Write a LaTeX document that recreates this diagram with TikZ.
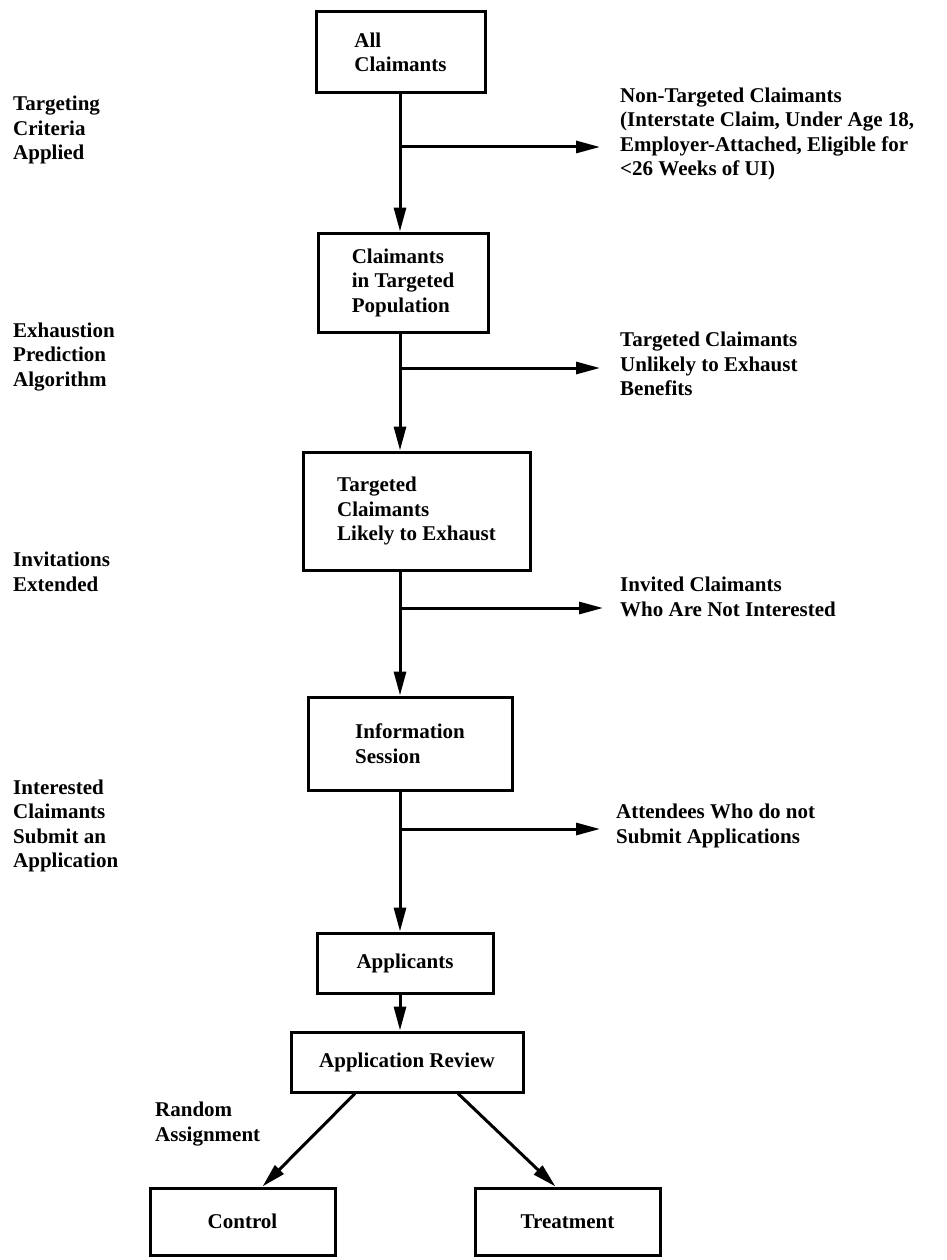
\documentclass[tikz,border=0pt]{standalone}
\usepackage{fontspec}
\setmainfont{Liberation Serif}
\usetikzlibrary{arrows.meta}

\begin{document}
\begin{tikzpicture}[x=1pt, y=-1pt, every node/.style={font=\bfseries\fontsize{21}{24.5}\selectfont, inner sep=0pt, align=left}, box/.style={draw, line width=3pt}, flow/.style={line width=3pt, -{Triangle[length=24pt,width=12pt]}}, lab/.style={anchor=west}]
  \useasboundingbox (0,0) rectangle (947,1260);
  % boxes down the middle
  \node[box, minimum width=169pt, minimum height=81pt] (all) at (400.5,52.5) {All\\Claimants};
  \node[box, minimum width=170pt, minimum height=99pt] (targpop) at (403,282.5) {Claimants\\in Targeted\\Population};
  \node[box, minimum width=227pt, minimum height=118pt] (likely) at (416.5,511) {Targeted\\Claimants\\Likely to Exhaust};
  \node[box, minimum width=204pt, minimum height=93pt] (info) at (410,743.5) {Information\\Session};
  \node[box, minimum width=176pt, minimum height=60pt] (appl) at (405,963) {Applicants};
  \node[box, minimum width=232pt, minimum height=60pt] (review) at (407,1062) {Application Review};
  \node[box, minimum width=185pt, minimum height=67pt] (control) at (242.5,1221.5) {Control};
  \node[box, minimum width=185pt, minimum height=67pt] (treat) at (567.5,1221.5) {Treatment};
  % stage labels, left
  \node[lab] (crit) at (13,130) {Targeting\\Criteria\\Applied};
  \node[lab] (algo) at (13,357) {Exhaustion\\Prediction\\Algorithm};
  \node[lab] (invit) at (13,572) {Invitations\\Extended};
  \node[lab] (submit) at (13,826) {Interested\\Claimants\\Submit an\\Application};
  \node[lab] (random) at (155,1124) {Random\\Assignment};
  % drop-outs, right
  \node[lab] (nontarg) at (620,134) {Non-Targeted Claimants\\(Interstate Claim, Under Age 18,\\Employer-Attached, Eligible for\\<26 Weeks of UI)};
  \node[lab] (unlikely) at (620,364) {Targeted Claimants\\Unlikely to Exhaust\\Benefits};
  \node[lab] (notint) at (620,597) {Invited Claimants\\Who Are Not Interested};
  \node[lab] (noapp) at (616,826) {Attendees Who do not\\Submit Applications};
  % branch points
  \coordinate (b1) at (400,147);
  \coordinate (b2) at (400,368);
  \coordinate (b3) at (400,608);
  \coordinate (b4) at (400,829);
  % main flow
  \draw[flow] (all.south -| b1) -- (targpop.north -| b1);
  \draw[flow] (targpop.south -| b2) -- (likely.north -| b2);
  \draw[flow] (likely.south -| b3) -- (info.north -| b3);
  \draw[flow] (info.south -| b4) -- (appl.north -| b4);
  \draw[flow] (appl.south -| b4) -- (review.north -| b4);
  \draw[flow] (b1) -- ([xshift=-20pt]b1 -| nontarg.west);
  \draw[flow] (b2) -- ([xshift=-20pt]b2 -| unlikely.west);
  \draw[flow] (b3) -- ([xshift=-17pt]b3 -| notint.west);
  \draw[flow] (b4) -- ([xshift=-16pt]b4 -| noapp.west);
  \draw[flow] ([xshift=-52pt]review.south) -- ([xshift=20pt]control.north);
  \draw[flow] ([xshift=51pt]review.south) -- ([xshift=-12pt]treat.north);
\end{tikzpicture}
\end{document}
